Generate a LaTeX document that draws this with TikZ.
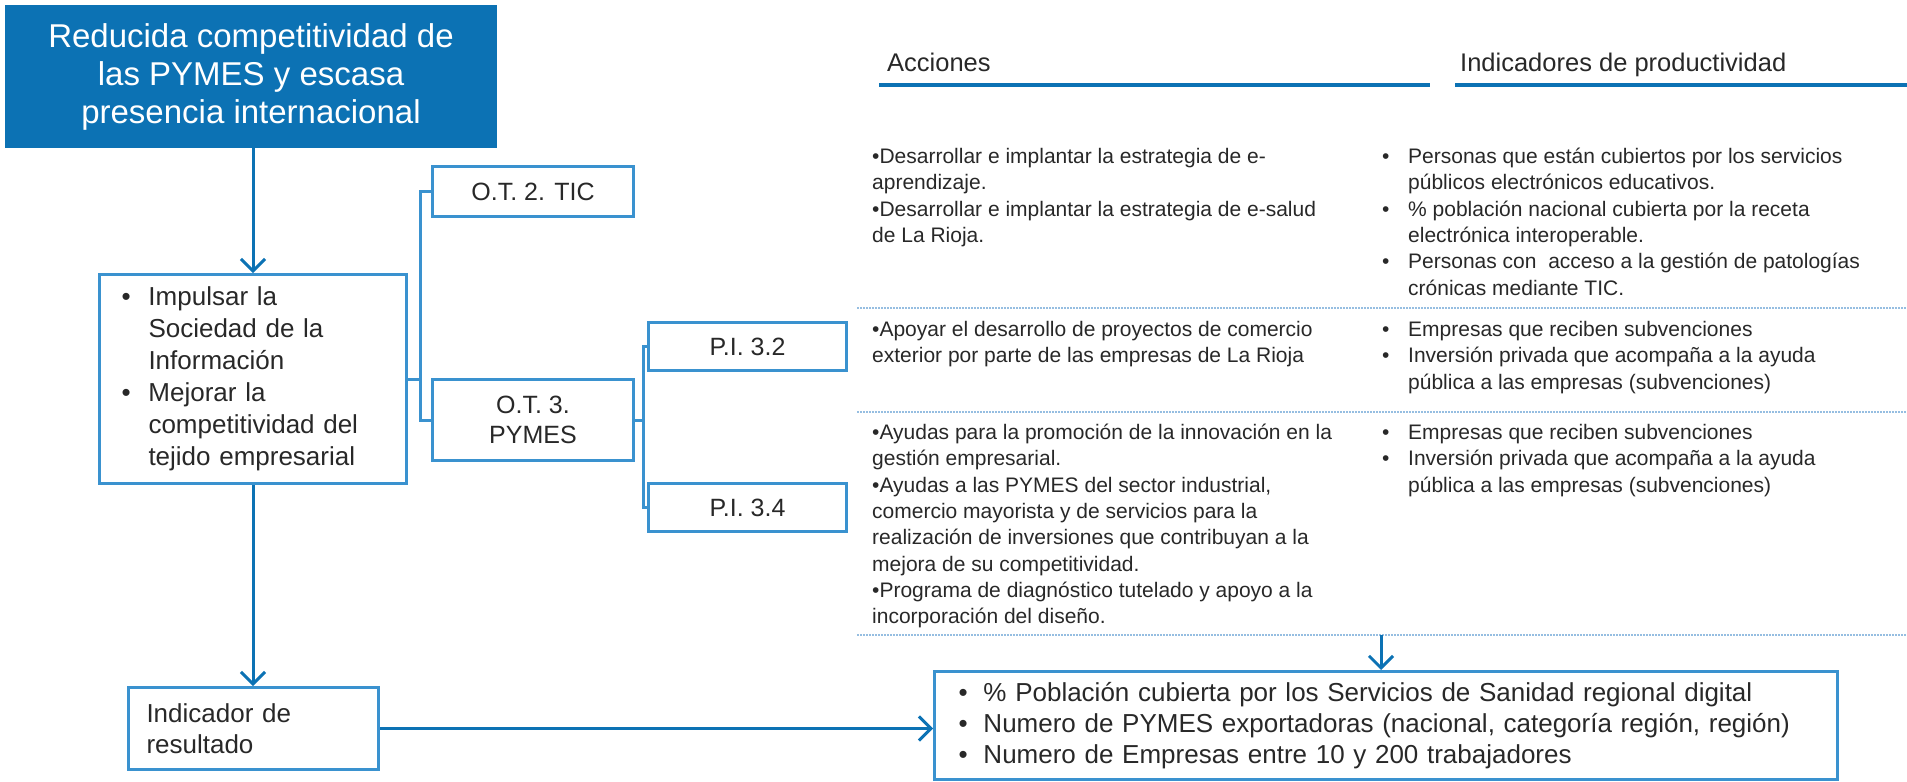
\documentclass[tikz,border=0pt]{standalone}
\usepackage{fontspec}
\setmainfont{Liberation Sans}
\usetikzlibrary{arrows.meta}
\definecolor{azul}{RGB}{12,114,180}
\definecolor{borde}{RGB}{58,146,207}
\definecolor{punteado}{RGB}{150,190,225}
\definecolor{texto}{RGB}{40,40,40}
\newcommand{\vin}[1]{\makebox[#1pt][l]{•}}
\newcommand{\sang}[1]{\hspace*{#1pt}}

\begin{document}
\begin{tikzpicture}[x=1pt,y=-1pt,
    caja/.style={draw=borde,line width=3pt,text=texto,inner sep=0pt,anchor=north west},
    conector/.style={draw=borde,line width=3pt},
    flecha/.style={draw=azul,line width=3pt,-{Straight Barb[length=12pt,width=24pt]}},
    sep/.style={draw=punteado,line width=2pt,dash pattern=on 1.5pt off 1.5pt},
    lista/.style={anchor=north west,inner sep=0pt,align=left,text=texto,font=\fontsize{21}{26.3}\selectfont,execute at begin node=\strut},
    titulo/.style={anchor=base west,inner sep=0pt,text=texto,font=\fontsize{25.5}{30}\selectfont}]
    \useasboundingbox (0,0) rectangle (1907,782);
    \node[caja,fill=azul,draw=azul,minimum width=489,minimum height=140,text=white,align=center,font=\fontsize{33}{38}\selectfont] (problema) at (5,5) {Reducida competitividad de\\las PYMES y escasa\\presencia internacional};
    \node[caja,minimum width=307,minimum height=209,text width=263,align=left,font=\fontsize{26}{32}\selectfont] (objetivos) at (98,273) {\vin{27}Impulsar la\\\sang{27}Sociedad de la\\\sang{27}Información\\\vin{27}Mejorar la\\\sang{27}competitividad del\\\sang{27}tejido empresarial};
    \node[caja,minimum width=201,minimum height=50,font=\fontsize{25}{30}\selectfont] (ot2) at (431,165) {O.T. 2. TIC};
    \node[caja,minimum width=201,minimum height=81,align=center,font=\fontsize{25}{30}\selectfont] (ot3) at (431,378) {O.T. 3.\\PYMES};
    \node[caja,minimum width=198,minimum height=48,font=\fontsize{25}{30}\selectfont] (pi32) at (647,321) {P.I. 3.2};
    \node[caja,minimum width=198,minimum height=48,font=\fontsize{25}{30}\selectfont] (pi34) at (647,482) {P.I. 3.4};
    \node[caja,minimum width=250,minimum height=82,text width=214,align=left,font=\fontsize{26}{31}\selectfont] (resultado) at (127,686) {Indicador de\\resultado};
    \node[caja,minimum width=903,minimum height=108,text width=855,align=left,font=\fontsize{26}{31}\selectfont] (metas) at (933,670) {\vin{25}\% Población cubierta por los Servicios de Sanidad regional digital\\\vin{25}Numero de PYMES exportadoras (nacional, categoría región, región)\\\vin{25}Numero de Empresas entre 10 y 200 trabajadores};

    \node[titulo] (acciones) at (887,71) {Acciones};
    \node[titulo] (indicadores) at (1460,71) {Indicadores de productividad};
    \draw[azul,line width=4pt] (879,85) -- (1430,85);
    \draw[azul,line width=4pt] (1455,85) -- (1907,85);
    \foreach \y in {308,412,635}
        \draw[sep] (857,\y) -- (1907,\y);

    \node[lista] (acc1) at (872,148) {•Desarrollar e implantar la estrategia de e-\\aprendizaje.\\•Desarrollar e implantar la estrategia de e-salud\\de La Rioja.};
    \node[lista] (acc2) at (872,321) {•Apoyar el desarrollo de proyectos de comercio\\exterior por parte de las empresas de La Rioja};
    \node[lista] (acc3) at (872,424) {•Ayudas para la promoción de la innovación en la\\gestión empresarial.\\•Ayudas a las PYMES del sector industrial,\\comercio mayorista y de servicios para la\\realización de inversiones que contribuyan a la\\mejora de su competitividad.\\•Programa de diagnóstico tutelado y apoyo a la\\incorporación del diseño.};
    \node[lista] (ind1) at (1382,148) {\vin{26}Personas que están cubiertos por los servicios\\\sang{26}públicos electrónicos educativos.\\\vin{26}\% población nacional cubierta por la receta\\\sang{26}electrónica interoperable.\\\vin{26}Personas con~ acceso a la gestión de patologías\\\sang{26}crónicas mediante TIC.};
    \node[lista] (ind2) at (1382,321) {\vin{26}Empresas que reciben subvenciones\\\vin{26}Inversión privada que acompaña a la ayuda\\\sang{26}pública a las empresas (subvenciones)};
    \node[lista] (ind3) at (1382,424) {\vin{26}Empresas que reciben subvenciones\\\vin{26}Inversión privada que acompaña a la ayuda\\\sang{26}pública a las empresas (subvenciones)};

    \draw[flecha] (problema.south -| objetivos.north) -- (objetivos.north);
    \draw[conector] (objetivos.east) -- ++(12,0) |- (ot2.west);
    \draw[conector] (objetivos.east) -- ++(12,0) |- (ot3.west);
    \draw[conector] (ot3.east) -- ++(8,0) |- (pi32.west);
    \draw[conector] (ot3.east) -- ++(8,0) |- (pi34.west);
    \draw[flecha] (objetivos.south) -- (objetivos.south |- resultado.north);
    \draw[flecha] (resultado.east) -- (resultado.east -| metas.west);
    \coordinate (bajada) at (1381,635);
    \draw[flecha] (bajada) -- (bajada |- metas.north);
\end{tikzpicture}
\end{document}
